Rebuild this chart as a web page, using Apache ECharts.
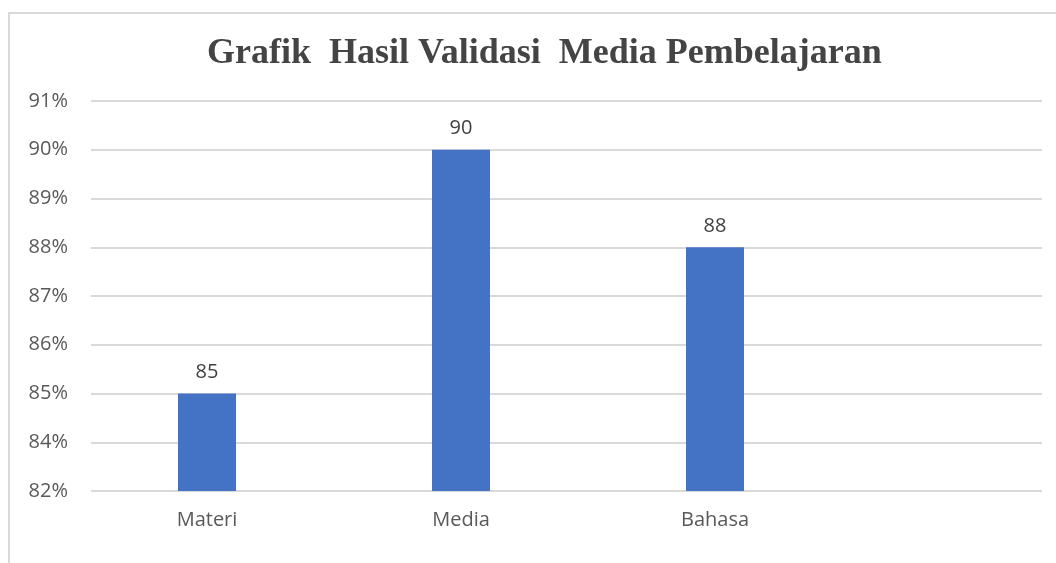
<!DOCTYPE html>
<html>
<head>
<meta charset="utf-8">
<script src="https://cdn.jsdelivr.net/npm/echarts@6/dist/echarts.min.js"></script>
<style>
html,body{margin:0;padding:0;background:#ffffff;}
#c{width:1056px;height:563px;}
</style>
</head>
<body>
<div id="c"></div>
<script>
const titleText = 'Grafik  Hasil Validasi  Media Pembelajaran';
const categories = ['Materi', 'Media', 'Bahasa'];
const values = [85, 90, 88];
const yMin = 83, yMax = 91, yStep = 1;
const tickLabels = ['82%', '84%', '85%', '86%', '87%', '88%', '89%', '90%', '91%'];

const chart = echarts.init(document.getElementById('c'), null, {renderer: 'canvas'});
const labelFont = '"Open Sans", "Noto Sans", sans-serif';
chart.setOption({
  backgroundColor: '#ffffff',
  animation: false,
  title: {
    text: titleText,
    left: 202, top: 31,
    textStyle: {fontFamily: '"Liberation Serif", "Times New Roman", serif', fontWeight: 'bold', fontSize: 36, color: '#444444'}
  },
  graphic: [{
    type: 'rect', silent: true, z: -1,
    shape: {x: 9, y: 13, width: 1100, height: 600},
    style: {fill: 'none', stroke: '#d9d9d9', lineWidth: 2}
  }],
  grid: [
    {left: 91, right: 14, top: 101, bottom: 72},
    {left: 80, width: 762, top: 101, bottom: 72}
  ],
  xAxis: [
    {type: 'category', gridIndex: 0, data: categories, show: false},
    {type: 'category', gridIndex: 1, data: categories,
     axisLine: {show: false}, axisTick: {show: false},
     axisLabel: {margin: 19, fontSize: 20, color: '#595959', fontFamily: labelFont}}
  ],
  yAxis: [
    {type: 'value', gridIndex: 0, min: yMin, max: yMax, interval: yStep,
     axisLine: {show: false}, axisTick: {show: false},
     splitLine: {lineStyle: {color: '#d9d9d9', width: 2}},
     axisLabel: {margin: 23, fontSize: 20, color: '#595959', fontFamily: labelFont,
       formatter: v => tickLabels[Math.round((v - yMin) / yStep)]}},
    {type: 'value', gridIndex: 1, min: yMin, max: yMax, interval: yStep, show: false, splitLine: {show: false}}
  ],
  series: [{
    type: 'bar', xAxisIndex: 1, yAxisIndex: 1,
    data: values, barWidth: 58,
    itemStyle: {color: '#4472c4'},
    label: {show: true, position: 'top', distance: 11, fontSize: 20, color: '#404040', fontFamily: labelFont}
  }]
});
</script>
</body>
</html>
